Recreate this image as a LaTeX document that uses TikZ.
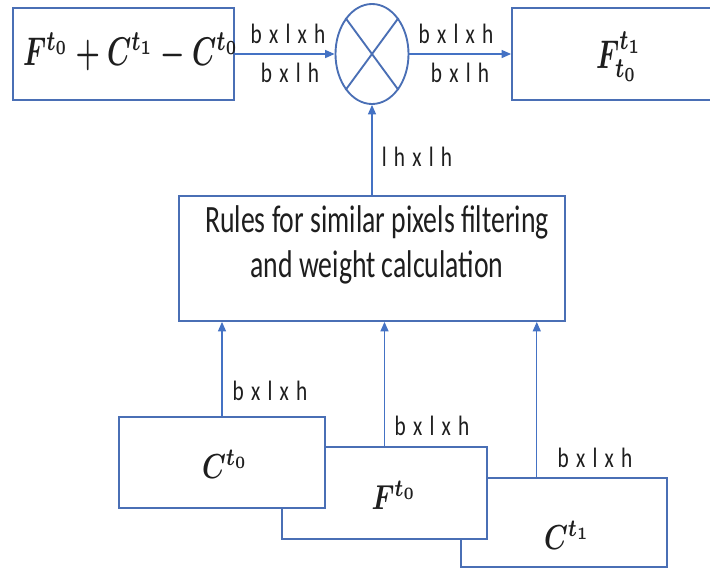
\documentclass[tikz,border=0pt]{standalone}
\usepackage{fontspec}
\setmainfont{Carlito}
\newfontfamily\lblfont{Carlito}[WordSpace=1.5]
\usetikzlibrary{shapes.geometric,arrows.meta,calc}
\definecolor{boxblue}{HTML}{4A6FB5}
\definecolor{arrblue}{HTML}{4472C4}
\definecolor{txt}{HTML}{1E1E1E}
\newcommand\lab[1]{\scalebox{1.6}[2.1]{\lblfont #1}}
\newcommand\mtop[1]{\scalebox{2.05}[3.0]{\boldmath$#1$}}
\newcommand\mbot[1]{\scalebox{2.02}[2.6]{\boldmath$#1$}}
\begin{document}
\begin{tikzpicture}[x=0.75pt,y=-0.75pt,
  box/.style={draw=boxblue, line width=1.4pt, fill=white, inner sep=0pt, rectangle},
  conn/.style={draw=arrblue, line width=0.8pt, -{Triangle[length=7pt,width=6pt]}},
  lbl/.style={text=txt, inner sep=0pt, anchor=base}]
\useasboundingbox (0,0) rectangle (710,569);
% boxes
\node[box, minimum width=221*0.75pt, minimum height=92*0.75pt] (A) at (123.5,54) {};
\node[box, ellipse, minimum width=73*0.75pt, minimum height=100*0.75pt] (X) at (372,54) {};
\draw[boxblue, line width=1.4pt] (X.north west) -- (X.south east) (X.north east) -- (X.south west);
\node[box, minimum width=218*0.75pt, minimum height=92*0.75pt] (R) at (621,54) {};
\node[box, minimum width=386*0.75pt, minimum height=125*0.75pt] (W) at (372,258.5) {};
\node[box, minimum width=206*0.75pt, minimum height=89*0.75pt] (C1) at (564,522.5) {};
\node[box, minimum width=205*0.75pt, minimum height=92*0.75pt] (F0) at (384.5,493) {};
\node[box, minimum width=206*0.75pt, minimum height=91*0.75pt] (C0) at (222,462.5) {};
% connectors
\draw[conn] (A.east) -- (X.west);
\draw[conn] (X.east) -- (R.west);
\draw[conn] (W.north) -- (X.south);
\draw[conn] (C0.north) -- (C0.north |- W.south);
\draw[conn] (F0.north) -- (F0.north |- W.south);
\coordinate (c1top) at ($(C1.north west)!0.369!(C1.north east)$);
\draw[conn] (c1top) -- (c1top |- W.south);
% labels
\node[lbl] (l1) at (288,43) {\lab{b x l x h}};
\node[lbl] (l2) at (290,82) {\lab{b x l h}};
\node[lbl] (l3) at (456,43) {\lab{b x l x h}};
\node[lbl] (l4) at (460,82) {\lab{b x l h}};
\node[lbl] (l5) at (417,166) {\lab{l h x l h}};
\node[lbl] (l6) at (270,400) {\lab{b x l x h}};
\node[lbl] (l7) at (432,435) {\lab{b x l x h}};
\node[lbl] (l8) at (595,467) {\lab{b x l x h}};
% box texts
\node[lbl] (tA) at (131,65) {\mtop{F^{t_0}+C^{t_1}-C^{t_0}}};
\node[lbl] (tR) at (619,68) {\mtop{F_{t_0}^{t_1}}};
\node[lbl] (tW) at (377,232) {\scalebox{2.08}[2.9]{\def\arraystretch{0.97}\begin{tabular}[t]{@{}c@{}}Rules for similar pixels filtering\\ and weight calculation\end{tabular}}};
\node[lbl] (tC0) at (225,478) {\mbot{C^{t_0}}};
\node[lbl] (tF0) at (394,509) {\mbot{F^{t_0}}};
\node[lbl] (tC1) at (567,549) {\mbot{C^{t_1}}};
\end{tikzpicture}
\end{document}
